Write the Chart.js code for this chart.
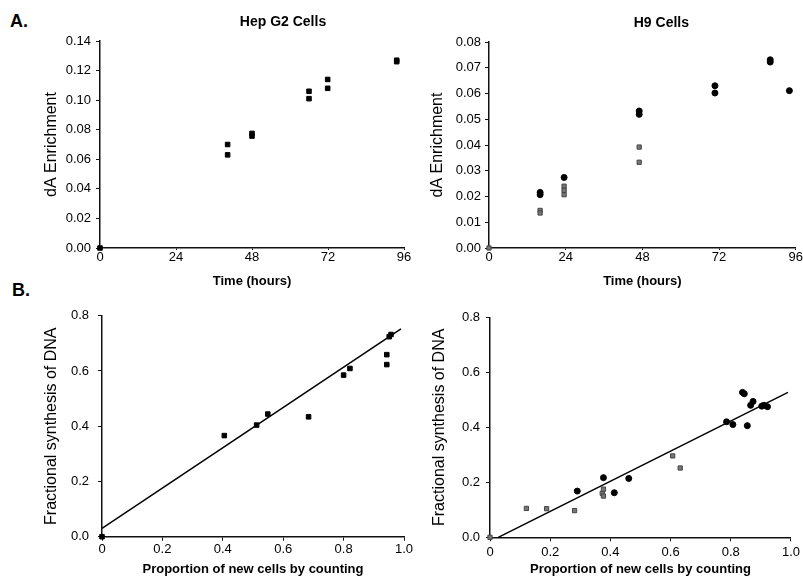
<!DOCTYPE html>
<html>
<head>
<meta charset="utf-8">
<script src="https://cdn.jsdelivr.net/npm/chart.js@4"></script>
<style>
  body { margin: 0; background: #fff; }
  #fig { position: relative; width: 803px; height: 578px; overflow: hidden; font-family: Arial, "Liberation Sans", sans-serif; }
  .panel { position: absolute; }
  .letter { position: absolute; font-weight: bold; font-size: 18px; line-height: 18px; color: #000; }
</style>
</head>
<body>
<div id="fig">
  <div class="letter" style="left:10px; top:12px;">A.</div>
  <div class="letter" style="left:12px; top:281px;">B.</div>
  <div class="panel" style="left:0; top:0;"><canvas id="hepChart" width="420" height="290"></canvas></div>
  <div class="panel" style="left:390px; top:0;"><canvas id="h9Chart" width="413" height="290"></canvas></div>
  <div class="panel" style="left:0; top:290px;"><canvas id="hepFitChart" width="420" height="288"></canvas></div>
  <div class="panel" style="left:390px; top:290px;"><canvas id="h9FitChart" width="413" height="288"></canvas></div>
</div>
<script>
// A. Hep G2 - enrichissement dA vs temps
const hepTime = [0, 40.3, 40.3, 48, 48, 66, 66, 71.9, 71.9, 93.7, 93.7];
const hepEnrich = [0, 0.070, 0.063, 0.0775, 0.0757, 0.106, 0.101, 0.114, 0.108, 0.127, 0.126];

// A. H9 - deux series (ronds noirs, carres gris)
const h9TimeDark = [16, 16, 23.5, 47, 47, 70.7, 70.7, 88, 88, 94];
const h9EnrichDark = [0.0216, 0.0207, 0.0274, 0.0532, 0.0519, 0.063, 0.0602, 0.0731, 0.0722, 0.0611];
const h9TimeGrey = [0, 16, 16, 23.5, 23.5, 23.5, 47, 47];
const h9EnrichGrey = [0, 0.0146, 0.0136, 0.024, 0.0224, 0.0207, 0.0392, 0.0333];

// B. Hep G2 - synthese fractionnelle vs comptage
const hepCount = [0, 0.405, 0.512, 0.549, 0.684, 0.80, 0.821, 0.943, 0.943, 0.951, 0.957];
const hepSynth = [0, 0.366, 0.404, 0.444, 0.434, 0.585, 0.609, 0.659, 0.623, 0.724, 0.732];
const hepFitX = [0, 0.99];
const hepFitY = [0.03, 0.752];

// B. H9
const h9CountDark = [0.377, 0.461, 0.29, 0.413, 0.839, 0.845, 0.874, 0.866, 0.903, 0.91, 0.922, 0.786, 0.807, 0.855];
const h9SynthDark = [0.217, 0.214, 0.168, 0.162, 0.527, 0.522, 0.494, 0.48, 0.477, 0.48, 0.475, 0.42, 0.41, 0.406];
const h9CountGrey = [0, 0.121, 0.188, 0.281, 0.373, 0.377, 0.377, 0.607, 0.632];
const h9SynthGrey = [0, 0.105, 0.104, 0.097, 0.16, 0.175, 0.15, 0.296, 0.252];
const h9FitX = [0.0275, 0.99];
const h9FitY = [0, 0.527];

// tick values
const timeTicks = [0, 24, 48, 72, 96];
const propTicks = [0, 0.2, 0.4, 0.6, 0.8, 1.0];

const FONT = 'Arial, "Liberation Sans", sans-serif';

function pts(xs, ys) {
  return xs.map((x, i) => ({ x: x, y: ys[i] }));
}

const headingPlugin = {
  id: 'heading',
  afterDraw(chart, args, opts) {
    if (!opts.text) return;
    const { ctx, chartArea } = chart;
    ctx.save();
    ctx.font = 'bold 14px ' + FONT;
    ctx.fillStyle = '#000';
    ctx.textAlign = 'center';
    ctx.textBaseline = 'middle';
    ctx.fillText(opts.text, (chartArea.left + chartArea.right) / 2 + opts.dx, chartArea.top - opts.dy);
    ctx.restore();
  }
};

function makeOptions(c) {
  return {
    responsive: false,
    animation: false,
    layout: { padding: { left: c.padL, right: c.padR, top: c.padT, bottom: 0 } },
    plugins: {
      legend: { display: false },
      tooltip: { enabled: false },
      heading: c.heading || {}
    },
    scales: {
      x: {
        type: 'linear',
        min: c.xMin, max: c.xMax,
        afterFit: s => { s.height = c.xH; },
        afterBuildTicks: s => { s.ticks = c.xTicks.map(v => ({ value: v })); },
        border: { color: '#111', width: 1.5 },
        grid: { drawOnChartArea: false, drawTicks: true, tickLength: c.xTickLen, color: '#111' },
        ticks: { color: '#000', font: { family: FONT, size: 13 }, padding: c.xTickPad, maxRotation: 0, callback: c.xFmt },
        title: { display: true, text: c.xTitle, color: '#000', font: { family: FONT, size: 13, weight: 'bold' }, padding: { top: 0, bottom: 1 } }
      },
      y: {
        type: 'linear',
        min: c.yMin, max: c.yMax,
        afterFit: s => { s.width = c.yW; },
        border: { color: '#111', width: 1.5 },
        grid: { drawOnChartArea: false, drawTicks: true, tickLength: 4, color: '#111' },
        ticks: { color: '#000', font: { family: FONT, size: 13 }, padding: c.yTickPad, stepSize: c.yStep, callback: c.yFmt },
        title: { display: true, text: c.yTitle, color: '#000', font: { family: FONT, size: 16 }, padding: { top: 4, bottom: 0 } }
      }
    }
  };
}

function pointSet(data, style, color, border, r) {
  return {
    data: data, showLine: false, clip: false,
    pointStyle: style, pointRadius: r, pointBackgroundColor: color,
    pointBorderColor: border, pointBorderWidth: 1
  };
}

function fitSet(data) {
  return {
    data: data, showLine: true, pointRadius: 0,
    borderColor: '#000', borderWidth: 1.5, clip: false
  };
}

const fmtInt = v => String(v);
const fmt2 = v => v.toFixed(2);
const fmt1 = v => v.toFixed(1);
const fmtProp = v => (v === 0 ? '0' : v.toFixed(1));

// Hep G2 - temps
new Chart(document.getElementById('hepChart'), {
  type: 'scatter',
  data: { datasets: [pointSet(pts(hepTime, hepEnrich), 'rect', '#000', '#000', 3.2)] },
  options: makeOptions({
    padL: 38.4, padR: 16, padT: 41, yW: 61.6, xH: 42,
    xMin: 0, xMax: 96, xTicks: timeTicks, xTickLen: 2, xTickPad: 0, xFmt: fmtInt,
    yMin: 0, yMax: 0.14, yStep: 0.02, yTickPad: 5, yFmt: fmt2,
    xTitle: 'Time (hours)', yTitle: 'dA Enrichment',
    heading: { text: 'Hep G2 Cells', dx: 31, dy: 19 }
  }),
  plugins: [headingPlugin]
});

// H9 - temps
new Chart(document.getElementById('h9Chart'), {
  type: 'scatter',
  data: {
    datasets: [
      pointSet(pts(h9TimeGrey, h9EnrichGrey), 'rect', '#777', '#444', 3),
      pointSet(pts(h9TimeDark, h9EnrichDark), 'circle', '#000', '#000', 3)
    ]
  },
  options: makeOptions({
    padL: 34.4, padR: 6, padT: 42, yW: 64.6, xH: 42,
    xMin: 0, xMax: 96, xTicks: timeTicks, xTickLen: 2, xTickPad: 0, xFmt: fmtInt,
    yMin: 0, yMax: 0.08, yStep: 0.01, yTickPad: 4, yFmt: fmt2,
    xTitle: 'Time (hours)', yTitle: 'dA Enrichment',
    heading: { text: 'H9 Cells', dx: 19, dy: 19 }
  }),
  plugins: [headingPlugin]
});

// Hep G2 - comptage
new Chart(document.getElementById('hepFitChart'), {
  type: 'scatter',
  data: {
    datasets: [
      fitSet(pts(hepFitX, hepFitY)),
      pointSet(pts(hepCount, hepSynth), 'rect', '#000', '#000', 3.2)
    ]
  },
  options: makeOptions({
    padL: 38.4, padR: 16, padT: 25.7, yW: 63.6, xH: 41.3,
    xMin: 0, xMax: 1, xTicks: propTicks, xTickLen: 4, xTickPad: 1, xFmt: fmtProp,
    yMin: 0, yMax: 0.8, yStep: 0.2, yTickPad: 9, yFmt: fmt1,
    xTitle: 'Proportion of new cells by counting', yTitle: 'Fractional synthesis of DNA'
  }),
  plugins: [headingPlugin]
});

// H9 - comptage
new Chart(document.getElementById('h9FitChart'), {
  type: 'scatter',
  data: {
    datasets: [
      fitSet(pts(h9FitX, h9FitY)),
      pointSet(pts(h9CountGrey, h9SynthGrey), 'rect', '#777', '#444', 3),
      pointSet(pts(h9CountDark, h9SynthDark), 'circle', '#000', '#000', 3)
    ]
  },
  options: makeOptions({
    padL: 36.4, padR: 11, padT: 27.3, yW: 63.6, xH: 40.7,
    xMin: 0, xMax: 1, xTicks: propTicks, xTickLen: 4, xTickPad: 3, xFmt: fmtProp,
    yMin: 0, yMax: 0.8, yStep: 0.2, yTickPad: 6, yFmt: fmt1,
    xTitle: 'Proportion of new cells by counting', yTitle: 'Fractional synthesis of DNA'
  }),
  plugins: [headingPlugin]
});
</script>
</body>
</html>
